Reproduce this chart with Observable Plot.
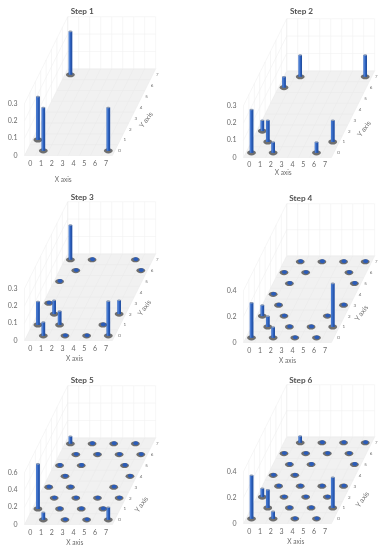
<!DOCTYPE html>
<html>
<head>
<meta charset="utf-8">
<script src="https://cdn.jsdelivr.net/npm/d3@7"></script>
<script src="https://cdn.jsdelivr.net/npm/@observablehq/plot@0.6"></script>
<style>
  html, body { margin: 0; padding: 0; background: #fff; }
  #chart { position: relative; width: 384px; height: 550px; overflow: hidden; }
  #chart svg { position: absolute; overflow: visible; filter: blur(0.45px); }
</style>
</head>
<body>
<div id="chart"></div>
<script>
// ---- tick labels ----
const xCategories = [0, 1, 2, 3, 4, 5, 6, 7];
const yCategories = [0, 1, 2, 3, 4, 5, 6, 7];
const zTicksSmall = [0, 0.1, 0.2, 0.3];
const zTicksMid = [0, 0.2, 0.4];
const zTicksLarge = [0, 0.2, 0.4, 0.6];

// ---- values: [x category, y category, probability] ----
const step1 = [[0,7,0.25],[0,1,0.25],[1,0,0.25],[7,0,0.25]];
const step2 = [[1,7,0.125],[7,7,0.125],[0,6,0.0625],[0,2,0.0625],[1,1,0.125],[7,1,0.125],[0,0,0.25],[2,0,0.0625],[6,0,0.0625]];
const step3 = [[0,7,0.2],[2,7,0.016],[6,7,0.016],[1,6,0.016],[7,6,0.016],[0,5,0.016],[0,3,0.016],[1,2,0.08],[7,2,0.08],
  [0,1,0.135],[2,1,0.08],[6,1,0.016],[1,0,0.08],[3,0,0.016],[5,0,0.016],[7,0,0.2]];
const step4 = [[1,7,0.016],[3,7,0.016],[5,7,0.016],[7,7,0.016],[0,6,0.016],[2,6,0.016],[6,6,0.016],[1,5,0.016],[7,5,0.016],
  [0,4,0.016],[1,3,0.016],[7,3,0.016],[0,2,0.085],[2,2,0.016],[6,2,0.016],[1,1,0.083],[3,1,0.016],[5,1,0.016],[7,1,0.335],
  [0,0,0.27],[2,0,0.083],[4,0,0.016],[6,0,0.016]];
const step5 = [[0,7,0.086],[2,7,0.01],[4,7,0.01],[6,7,0.01],[1,6,0.01],[3,6,0.01],[5,6,0.01],[7,6,0.01],[0,5,0.01],[2,5,0.01],[6,5,0.01],
  [1,4,0.01],[7,4,0.01],[0,3,0.01],[2,3,0.01],[6,3,0.01],[1,2,0.01],[3,2,0.01],[5,2,0.01],[7,2,0.01],
  [0,1,0.52],[2,1,0.01],[4,1,0.01],[6,1,0.01],[1,0,0.086],[3,0,0.01],[5,0,0.01],[7,0,0.145]];
const step6 = [[1,7,0.052],[3,7,0.012],[5,7,0.012],[7,7,0.012],[0,6,0.012],[2,6,0.012],[4,6,0.012],[6,6,0.012],
  [1,5,0.012],[3,5,0.012],[7,5,0.012],[0,4,0.012],[2,4,0.012],[1,3,0.012],[3,3,0.012],[5,3,0.012],[7,3,0.012],
  [0,2,0.068],[2,2,0.012],[4,2,0.012],[6,2,0.012],[1,1,0.14],[3,1,0.012],[5,1,0.012],[7,1,0.236],
  [0,0,0.335],[2,0,0.057],[4,0,0.012],[6,0,0.012]];

const stepTitles = ["Step 1", "Step 2", "Step 3", "Step 4", "Step 5", "Step 6"];
const stepValues = [step1, step2, step3, step4, step5, step6];
const stepZTicks = [zTicksSmall, zTicksSmall, zTicksSmall, zTicksMid, zTicksLarge, zTicksMid];

// ---- layout of each panel (CSS pixels) ----
const panelLeft = [0, 219, 0, 219, 0, 219];
const panelTop = [-1.3, 1, 184.3, 185.7, 368, 367.3];
const tickPad = [6, 5, 6, 5.5, 5.5, 6];
const titleAt = [[81.7,10.7],[82,10.7],[81.7,196.7],[81.3,197.7],[81.7,380],[81.3,379.7]];
const xTitleAt = [[62.7,178.7],[63.7,172.3],[74,358.7],[68,359.7],[74.3,542],[76.3,541.3]];
const yTitleAt = [[145.7,119],[144.7,128.3],[144,307.7],[142,312.3],[141,504],[143,499.3]];

const W = 165, H = 182, FRONT = 156, LEFT = 24;
const STEP_X = 10.83, STEP_Y_PX = 10.87, WALL_PX = 52;
const X_MIN = -0.523, X_MAX = 7.6, Y_MIN = -0.43, Y_MAX = 7.55, Y_LABEL_X = 8.03;

const ink = "#6a6a6a";
const font = "Lato, 'Open Sans', sans-serif";

function ellipse(rx, ry) {
  const c = 0.5523;
  return {
    draw(p) {
      p.moveTo(rx, 0);
      p.bezierCurveTo(rx, ry * c, rx * c, ry, 0, ry);
      p.bezierCurveTo(-rx * c, ry, -rx, ry * c, -rx, 0);
      p.bezierCurveTo(-rx, -ry * c, -rx * c, -ry, 0, -ry);
      p.bezierCurveTo(rx * c, -ry, rx, -ry * c, rx, 0);
      p.closePath();
    }
  };
}

const cells = d3.range(9).map(i => ({
  x: X_MIN + (X_MAX - X_MIN) * i / 8,
  y: Y_MIN + (Y_MAX - Y_MIN) * i / 8
}));

function panel(i) {
  const zTicks = stepZTicks[i];
  const zMax = d3.max(zTicks);
  const k = zMax / WALL_PX;
  // oblique projection: X keeps its axis position, depth Y slides right and up
  const px = (X, Y) => X + (Y - Y_MIN) * 0.5;
  const py = (Y, Z) => Z + (Y - Y_MIN) * STEP_Y_PX * k;

  const rows = stepValues[i].map(([X, Y, Z]) => ({
    bx: px(X, Y), by: py(Y, 0), ty: py(Y, Z), Y, Z
  }));
  const bars = rows.filter(d => d.Z > 0.03);
  const blobs = rows.filter(d => d.Z <= 0.03);

  const floor = [[X_MIN,Y_MIN],[X_MAX,Y_MIN],[X_MAX,Y_MAX],[X_MIN,Y_MAX],[X_MIN,Y_MIN]]
    .map(([X, Y]) => ({ x: px(X, Y), y: py(Y, 0) }));

  const wallLines = [
    ...zTicks.filter(z => z > 0).flatMap(z => [
      { x1: px(X_MIN, Y_MAX), y1: py(Y_MAX, z), x2: px(X_MAX, Y_MAX), y2: py(Y_MAX, z) },
      { x1: px(X_MIN, Y_MIN), y1: py(Y_MIN, z), x2: px(X_MIN, Y_MAX), y2: py(Y_MAX, z) }
    ]),
    ...cells.map(c => ({ x1: px(c.x, Y_MAX), y1: py(Y_MAX, 0), x2: px(c.x, Y_MAX), y2: py(Y_MAX, zMax) })),
    ...cells.map(c => ({ x1: px(X_MIN, c.y), y1: py(c.y, 0), x2: px(X_MIN, c.y), y2: py(c.y, zMax) }))
  ];
  const floorLines = [
    ...cells.map(c => ({ x1: px(c.x, Y_MIN), y1: py(Y_MIN, 0), x2: px(c.x, Y_MAX), y2: py(Y_MAX, 0) })),
    ...cells.map(c => ({ x1: px(X_MIN, c.y), y1: py(c.y, 0), x2: px(X_MAX, c.y), y2: py(c.y, 0) }))
  ];
  const yLabels = yCategories.map(Y => ({ x: px(Y_LABEL_X, Y), y: py(Y, 0), t: String(Y) }));

  const link = { x1: "x1", y1: "y1", x2: "x2", y2: "y2" };
  const barLink = { x1: "bx", y1: "by", x2: "bx", y2: "ty" };
  const label = (text, at, opts) => Plot.text([text], {
    frameAnchor: "top-left",
    dx: at[0] - LEFT,
    dy: at[1] - panelTop[i],
    textAnchor: "middle",
    lineAnchor: "middle",
    fill: ink,
    ...opts
  });

  const plot = Plot.plot({
    width: W, height: H,
    marginLeft: LEFT, marginRight: 0, marginTop: 0, marginBottom: H - FRONT,
    style: { background: "transparent", fontFamily: font, overflow: "visible" },
    x: { domain: [X_MIN, X_MIN + (W - LEFT) / STEP_X], axis: null },
    y: { domain: [0, FRONT * k], axis: null },
    marks: [
      Plot.link(wallLines, { ...link, stroke: "#f0f0f0", strokeWidth: 0.6 }),
      Plot.line(floor, { x: "x", y: "y", fill: "#f1f1f1", stroke: "none" }),
      Plot.link(floorLines, { ...link, stroke: "#e8e8e8", strokeWidth: 0.5 }),
      Plot.axisX({ ticks: xCategories, tickSize: 0, tickPadding: tickPad[i], tickFormat: d => String(d),
        fontSize: 7, fill: ink, color: ink, label: null }),
      Plot.axisY({ ticks: zTicks, tickSize: 0, tickPadding: 7, tickFormat: d => String(d),
        fontSize: 7, fill: ink, color: ink, label: null }),
      Plot.text(yLabels, { x: "x", y: "y", text: "t", fontSize: 4.5, fill: ink }),
      // small cells: soft shadow with a low blue cap
      Plot.dot(blobs, { x: "bx", y: "by", symbol: ellipse(4.4, 2.6), r: 2, fill: "#6e6e6e", stroke: "none", imageFilter: "blur(0.6px)" }),
      Plot.dot(blobs, { x: "bx", y: "by", dx: 0.5, dy: -0.5, symbol: ellipse(2.6, 1.9), r: 2, fill: "#2b5cb8", stroke: "none" }),
      // tall cells: soft shadow, cylinder, cap
      Plot.dot(bars, { x: "bx", y: "by", symbol: ellipse(4.4, 2.6), r: 2, fill: "#6e6e6e", stroke: "none", imageFilter: "blur(0.6px)" }),
      Plot.link(bars, { ...barLink, stroke: "#2c5fbd", strokeWidth: 3.6 }),
      Plot.link(bars, { ...barLink, dx: -0.9, stroke: "#4f82d6", strokeWidth: 1 }),
      Plot.link(bars, { ...barLink, dx: 1.3, stroke: "#234f9f", strokeWidth: 0.9 }),
      Plot.dot(bars, { x: "bx", y: "ty", symbol: ellipse(1.8, 0.8), r: 2, fill: "#8a9ab5", stroke: "none" }),
      // titles
      label(stepTitles[i], titleAt[i], { fontSize: 8.2, fontWeight: "bold", fill: "#505050" }),
      label("X axis", xTitleAt[i], { fontSize: 6.6 }),
      label("Y axis", yTitleAt[i], { fontSize: 7, rotate: -54 })
    ]
  });
  plot.style.left = panelLeft[i] + "px";
  plot.style.top = panelTop[i] + "px";
  return plot;
}

const root = document.getElementById("chart");
stepTitles.forEach((_, i) => root.appendChild(panel(i)));
</script>
</body>
</html>
